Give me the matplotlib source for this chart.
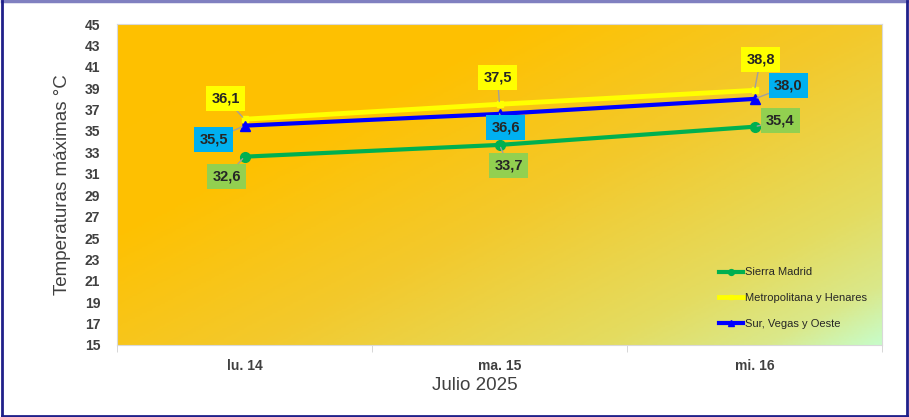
from matplotlib import pyplot as plt
from matplotlib.colors import LinearSegmentedColormap
from matplotlib.lines import Line2D
import numpy as np

plt.rcParams['font.family'] = ['Liberation Sans', 'DejaVu Sans']

dias = ['lu. 14', 'ma. 15', 'mi. 16']
sierra = [32.6, 33.7, 35.4]
metro = [36.1, 37.5, 38.8]
sur = [35.5, 36.6, 38.0]

# label offsets (pixels) for each data label
off_sierra = [(-18, -20), (9, -21), (26, 6)]
off_metro = [(-19, 21), (-2, 27), (6, 31)]
off_sur = [(-31, -14), (6, -14), (34, 13)]

f = plt.figure(figsize=(9.09, 4.17), dpi=100)
ax = f.add_axes([117/909, 72/417, 765/909, 321/417])

# gradient background of plot area
cmap = LinearSegmentedColormap.from_list('fondo', [
    (0.0, '#FFC000'), (0.3, '#FEC102'), (0.55, '#F3C92C'),
    (0.8, '#E4DC60'), (0.92, '#DAE88A'), (1.0, '#C8FCC8')])
gx, gy = np.meshgrid(np.linspace(0, 1, 300), np.linspace(0, 1, 150))
grad = 0.55*gx + 0.45*gy
ax.imshow(grad, cmap=cmap, extent=(-0.5, 2.5, 15, 45), origin='upper',
          aspect='auto', zorder=0, vmin=0, vmax=1)

x = np.arange(len(dias))
ax.plot(x, metro, color='#FFFF00', lw=3.5, marker='s', ms=5,
        label='Metropolitana y Henares', zorder=3)
ax.plot(x, sur, color='#0000FF', lw=3, marker='^', ms=7,
        label='Sur, Vegas y Oeste', zorder=4)
ax.plot(x, sierra, color='#00B050', lw=3, marker='o', ms=7,
        label='Sierra Madrid', zorder=3)

def etiquetas(vals, offs, fc):
    for xi, v, o in zip(x, vals, offs):
        ax.annotate(f'{v:.1f}'.replace('.', ','), (xi, v), xytext=o,
                    textcoords='offset pixels', ha='center', va='center',
                    fontsize=10.5, fontweight='bold', color='#262626',
                    bbox=dict(boxstyle='square,pad=0.38', fc=fc, ec='none'),
                    arrowprops=dict(arrowstyle='-', color='#a0a0a0', lw=1,
                                    shrinkA=0, shrinkB=2), zorder=6)

etiquetas(metro, off_metro, '#FFFF00')
etiquetas(sur, off_sur, '#00B0F0')
etiquetas(sierra, off_sierra, '#92D050')

ax.set_xlim(-0.5, 2.5)
ax.set_ylim(15, 45)
ax.set_yticks(np.arange(15, 46, 2))
ax.set_xticks(x)
ax.set_xticklabels(dias)
ax.set_xticks([-0.5, 0.5, 1.5, 2.5], minor=True)
ax.tick_params(axis='x', which='major', length=0, pad=10)
ax.tick_params(axis='x', which='minor', length=5, color='#d0d0d0')
ax.tick_params(axis='y', length=0, pad=12)
for lab in ax.get_xticklabels() + ax.get_yticklabels():
    lab.set_fontweight('bold')
    lab.set_color('#404040')
    lab.set_fontsize(10)
for s in ax.spines.values():
    s.set_color('#d9d9d9')

ax.set_ylabel('Temperaturas máximas °C', fontsize=13.5, color='#404040', labelpad=10)
f.text(475/909, 1 - 385/417, 'Julio 2025', fontsize=13.5, color='#404040',
       ha='center', va='center')

h, l = ax.get_legend_handles_labels()
order = [2, 0, 1]
leg = ax.legend([h[i] for i in order], [l[i] for i in order], loc='lower right',
                frameon=False, fontsize=8, handlelength=2.2, markerscale=0.6,
                labelspacing=1.4, handletextpad=0.15,
                bbox_to_anchor=(0.993, 0.02))
for t in leg.get_texts():
    t.set_color('#262626')

# outer frame: light purple top, navy elsewhere
f.lines.append(Line2D([0.002, 0.998], [0.997, 0.997], transform=f.transFigure,
                      color='#8080C0', lw=2.5))
for xs, ys in [([0.002, 0.002], [0.003, 0.997]), ([0.998, 0.998], [0.003, 0.997]),
               ([0.002, 0.998], [0.003, 0.003])]:
    f.lines.append(Line2D(xs, ys, transform=f.transFigure, color='#20208A', lw=2))

f.savefig('out.png', dpi=100)
